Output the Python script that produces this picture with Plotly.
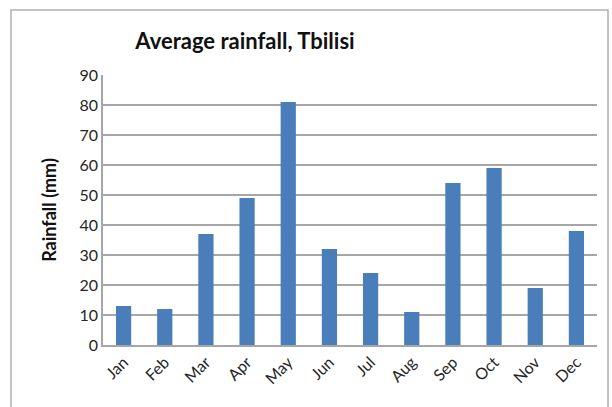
import plotly.graph_objects as go

months = ["Jan", "Feb", "Mar", "Apr", "May", "Jun", "Jul", "Aug", "Sep", "Oct", "Nov", "Dec"]
rainfall = [13, 12, 37, 49, 81, 32, 24, 11, 54, 59, 19, 38]
y_ticks = [0, 10, 20, 30, 40, 50, 60, 70, 80, 90]

W, H = 612, 407
L, R, T, B = 103, 15, 75, 62
pw, ph = W - L - R, H - T - B

def px(x):
    return (x - L) / pw

def py(y):
    return (H - B - y) / ph

fig = go.Figure(go.Bar(x=months, y=rainfall, marker=dict(color="#4a7ebb", line=dict(width=0))))

fig.update_layout(
    width=W, height=H,
    margin=dict(l=L, r=R, t=T, b=B),
    paper_bgcolor="white", plot_bgcolor="white",
    bargap=0.63,
    showlegend=False,
    font=dict(family="Lato", color="#262626"),
    title=dict(text="<b>Average rainfall, Tbilisi</b>", x=px(245), xref="paper", xanchor="center",
               y=1 - 41 / H, yanchor="middle", font=dict(size=22, color="#111111")),
    xaxis=dict(tickangle=-45, tickfont=dict(size=16), showline=True, linecolor="#a6a6a6", linewidth=1.5,
               ticks="", showgrid=False),
    yaxis=dict(range=[0, 90], tickvals=y_ticks, tickfont=dict(size=16), showline=True, linecolor="#a6a6a6",
               linewidth=1.5, gridcolor="#a6a6a6", gridwidth=1.5, ticks="", zeroline=False,
               title=dict(text="<b>Rainfall (mm)</b>", font=dict(size=18, color="#111111"), standoff=18)),
    shapes=[dict(type="rect", xref="paper", yref="paper", x0=px(11), x1=px(608), y0=py(420), y1=py(10),
                 line=dict(color="#b0b0b0", width=1.5), fillcolor="rgba(0,0,0,0)", layer="below")],
)

fig.write_html("out.html", config={"displayModeBar": False},
               post_script="document.body.style.margin='0';document.body.style.overflow='hidden';")
